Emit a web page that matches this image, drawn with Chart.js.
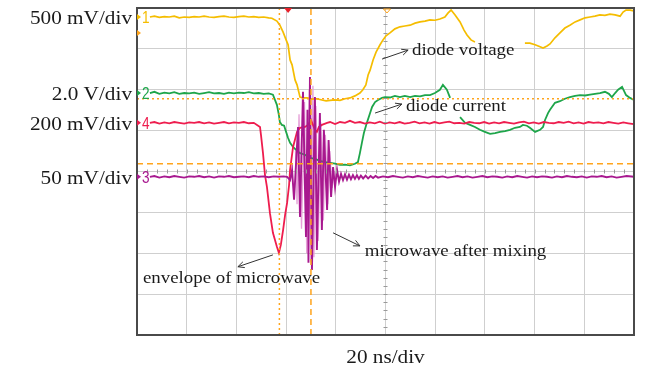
<!DOCTYPE html>
<html lang="en">
<head>
  <meta charset="UTF-8">
  <title>Diode mixing waveforms</title>
  <script src="https://cdn.jsdelivr.net/npm/chart.js"></script>
  <style>
    html, body {
      margin: 0;
      padding: 0;
      background: #ffffff;
    }
    .wrap {
      position: relative;
      width: 671px;
      height: 371px;
    }
  </style>
</head>
<body>
  <div class="wrap">
    <canvas id="scope" width="671" height="371"></canvas>
  </div>

  <script>
    // time in ns (20 ns/div), amplitude in screen divisions (centre = 0)
    const ch1 = [[5.2,3.78],[7,3.80],[9,3.77],[11,3.79],[13,3.78],[15,3.80],[17,3.76],[19,3.78],[21,3.77],[23,3.79],[25,3.78],[27,3.80],[29,3.78],[31,3.77],[33,3.79],[35,3.80],[37,3.78],[39,3.77],[41,3.79],[43,3.80],[45,3.78],[47,3.79],[49,3.77],[51,3.78],[53,3.76],[54.3,3.75],
      [56.3,3.68],[57.5,3.58],[58.8,3.41],[60.0,3.22],[60.8,3.10],[61.6,2.73],[62.4,2.61],[63.6,2.24],[64.4,2.12],[65.6,1.82],[66.8,1.80],[68.4,1.80],[70.4,1.77],[72.4,1.78],[74.4,1.75],[76.1,1.73],[77.7,1.74],[79.7,1.75],[81.7,1.74],[83.7,1.78],[85.7,1.80],[87.7,1.85],[89.7,1.92],[90.9,2.00],[92.1,2.12],[93.0,2.36],[93.8,2.48],[95.0,2.73],[96.2,2.92],[97.8,3.10],[99.0,3.22],[100.2,3.32],[101.8,3.39],[103.8,3.49],[105.8,3.54],[107.8,3.56],[109.9,3.58],[111.9,3.63],[113.9,3.66],[115.9,3.68],[117.9,3.71],[119.9,3.70],[121.9,3.73],[123.9,3.78],[125.2,3.88],[126.4,3.95],[128.0,3.83],[130.0,3.66],[131.6,3.46],[132.8,3.34],[134.4,3.22],[136.0,3.17],
      [146,null],
      [156.1,3.14],[158.1,3.14],[160.2,3.10],[162.2,3.05],[163.4,3.02],[165.0,3.07],[166.2,3.12],[168.2,3.27],[170.2,3.39],[172.2,3.51],[174.2,3.58],[176.3,3.66],[178.3,3.71],[180.3,3.76],[182.3,3.78],[184.3,3.80],[186.3,3.83],[188.3,3.82],[190.3,3.85],[192.4,3.83],[194.4,3.80],[195.6,3.90],[196.8,3.95],[198.4,3.95],[200,3.93]];

    const ch2 = [[5.2,1.92],[7,1.95],[9,1.90],[11,1.93],[13,1.91],[15,1.94],[17,1.90],[19,1.92],[21,1.91],[23,1.93],[25,1.90],[27,1.92],[29,1.94],[31,1.91],[33,1.92],[35,1.90],[37,1.93],[39,1.91],[41,1.93],[43,1.92],[45,1.94],[47,1.91],[49,1.92],[51,1.90],[53,1.91],[54.7,1.88],
      [56.3,1.63],[57.1,1.38],[57.5,1.21],[58.3,1.14],[59.2,1.12],[60.0,0.97],[60.8,0.82],[61.6,0.70],[62.8,0.60],[64.0,0.53],[65.6,0.45],[67.6,0.41],[69.6,0.33],[71.6,0.31],[73.6,0.26],[75.7,0.23],[77.7,0.21],[79.7,0.19],[81.7,0.16],[83.7,0.17],[85.7,0.15],[87.7,0.19],[88.9,0.23],[89.7,0.45],[90.5,0.70],[91.3,0.94],[92.5,1.19],[93.8,1.43],[94.6,1.58],[95.8,1.70],[97.0,1.75],[98.6,1.80],[99.8,1.82],[101.8,1.81],[103.8,1.85],[105.8,1.82],[107.8,1.85],[109.9,1.82],[111.9,1.85],[113.9,1.84],[115.9,1.87],[117.9,1.87],[119.9,1.92],[121.9,2.00],[123.1,2.12],[124.7,2.00],[126.0,1.80],
      [128,null],
      [130.0,1.33],[132.0,1.19],[134.0,1.14],[136.0,1.09],[138.0,1.02],[140.0,0.97],[142.1,0.92],[144.1,0.94],[146.1,0.97],[148.1,0.99],[150.1,1.02],[152.1,1.07],[154.1,1.09],[155.3,1.14],[156.9,1.12],[158.1,1.07],[160.2,0.97],[162.2,1.02],[163.4,1.09],[164.2,1.26],[165.4,1.43],[166.2,1.51],[168.2,1.68],[170.2,1.72],[172.2,1.78],[174.2,1.82],[176.3,1.85],[178.3,1.87],[180.3,1.86],[182.3,1.88],[184.3,1.90],[186.3,1.92],[188.3,1.95],[189.9,1.90],[191.1,1.82],[192.4,1.92],[193.6,2.00],[195.2,2.07],[196.8,1.87],[198.4,1.80],[200,1.75]];

    const ch4 = [[5.2,1.19],[7,1.21],[9,1.17],[11,1.20],[13,1.18],[15,1.21],[17,1.19],[19,1.17],[21,1.20],[23,1.19],[25,1.21],[27,1.18],[29,1.20],[31,1.17],[33,1.19],[35,1.21],[37,1.18],[39,1.20],[41,1.19],[43,1.21],[45,1.18],[47,1.19],[48.3,1.14],
      [49.5,1.09],[49.9,0.89],[50.7,0.45],[51.5,-0.08],[52.3,-0.38],[53.5,-1.02],[54.7,-1.50],[56.3,-1.84],[57.1,-1.99],[57.9,-1.79],[58.8,-1.43],[59.6,-1.06],[60.4,-0.77],[61.2,-0.33],[61.6,0.04],[62.8,0.60],[64.4,0.97],[65.6,1.07],[67.6,1.09],[68.8,1.14],[70.0,1.26],[70.8,1.14],[71.6,1.02],[72.4,0.97],[73.2,1.09],[74.4,1.14],[76.5,1.19],[77.7,1.21],[79.7,1.16],[81.7,1.21],[83.7,1.19],[85.7,1.24],[87.7,1.19],
      [89.7,1.21],[91.7,1.17],[93.7,1.20],[95.7,1.18],[97.7,1.22],[99.7,1.17],[101.7,1.20],[103.7,1.18],[105.7,1.21],[107.7,1.17],[109.7,1.19],[111.7,1.22],[113.7,1.18],[115.7,1.20],[117.7,1.17],[119.7,1.21],[121.7,1.18],[123.7,1.20],[125.7,1.22],[127.7,1.18],[129.7,1.19],[131.7,1.17],[133.7,1.21],[135.7,1.19],[137.7,1.18],[139.7,1.21],[141.7,1.17],[143.7,1.20],[145.7,1.18],[147.7,1.21],[149.7,1.19],[151.7,1.17],[153.7,1.20],[155.7,1.22],[157.7,1.18],[159.7,1.20],[161.7,1.17],[163.7,1.21],[165.7,1.19],[167.7,1.18],[169.7,1.21],[171.7,1.19],[173.7,1.22],[175.7,1.18],[177.7,1.20],[179.7,1.17],[181.7,1.21],[183.7,1.19],[185.7,1.20],[187.7,1.18],[189.7,1.21],[191.7,1.19],[193.7,1.17],[195.7,1.20],[197.7,1.18],[200,1.16]];

    const ch3 = [[5.2,-0.13],[7,-0.11],[9,-0.15],[11,-0.12],[13,-0.14],[15,-0.11],[17,-0.13],[19,-0.15],[21,-0.12],[23,-0.13],[25,-0.11],[27,-0.14],[29,-0.12],[31,-0.15],[33,-0.12],[35,-0.13],[37,-0.11],[39,-0.14],[41,-0.13],[43,-0.12],[45,-0.14],[47,-0.11],[49,-0.13],[51,-0.12],[53,-0.14],[55,-0.12],[57,-0.13],[59,-0.12],[60.4,-0.13],
      [61.6,-0.21],[62.4,0.04],[63.2,-0.69],[64.8,1.09],[65.6,-1.11],[66.8,1.95],[68.0,-1.60],[68.6,1.51],[69.0,-2.23],[69.6,2.31],[70.4,-2.41],[71.6,1.82],[72.4,-1.92],[73.6,1.43],[74.4,-1.43],[75.2,1.02],[76.5,-0.94],[77.1,0.77],[78.1,-0.62],[78.9,0.11],[79.7,-0.38],[80.5,0.04],[81.3,-0.25],
      [82.1,-0.06],[82.9,-0.21],[83.7,-0.07],[84.5,-0.20],[85.3,-0.08],[86.1,-0.19],[86.9,-0.09],[87.7,-0.18],[88.5,-0.09],[89.3,-0.18],[90.1,-0.10],[91.0,-0.17],[92.0,-0.10],[93.0,-0.17],[94.0,-0.11],[95,-0.16],[96,-0.11],
      [97,-0.15],[99,-0.12],[101,-0.14],[103,-0.11],[105,-0.13],[107,-0.15],[109,-0.12],[111,-0.14],[113,-0.11],[115,-0.13],[117,-0.15],[119,-0.12],[121,-0.14],[123,-0.12],[125,-0.15],[127,-0.13],[129,-0.11],[131,-0.14],[133,-0.12],[135,-0.15],[137,-0.13],[139,-0.11],[141,-0.14],[143,-0.12],[145,-0.13],[147,-0.15],[149,-0.12],[151,-0.14],[153,-0.11],[155,-0.13],[157,-0.15],[159,-0.12],[161,-0.14],[163,-0.12],[165,-0.13],[167,-0.15],[169,-0.12],[171,-0.14],[173,-0.11],[175,-0.13],[177,-0.14],[179,-0.12],[181,-0.15],[183,-0.12],[185,-0.13],[187,-0.11],[189,-0.14],[191,-0.12],[193,-0.15],[195,-0.13],[197,-0.11],[200,-0.13]];

    // lighter in-between strokes of the mixed microwave burst
    const ch3Shade = [[63.8,0.50],[64.4,-0.80],[65.2,1.40],[66.2,-1.40],[67.4,1.70],[68.3,-2.00],[69.3,2.00],[70.0,-2.20],[70.8,2.10],[71.2,-2.10],[72.0,1.60],[72.9,-1.70],[74.0,1.20],[75.0,-1.20],[75.8,0.90],[76.8,-0.80],[77.6,0.50],[78.5,-0.40],[79.3,0.00]];

    const cursorTimes = [57.3, 70.0];
    const cursorLevels = [1.78, 0.19];

    const chLevels = [3.78, 1.92, 1.19, -0.13];
    const chNames = ['1', '2', '4', '3'];
    const chScales = ['500 mV/div', '2.0 V/div', '200 mV/div', '50 mV/div'];
    const chColors = ['#f5bd00', '#1ea54a', '#ee1d4e', '#a8198f'];

    const notes = [
      { text: 'diode voltage', at: [110.7, 2.85], from: [98.6, 2.75], to: [109.1, 2.97] },
      { text: 'diode current', at: [108.2, 1.48], from: [95.8, 1.43], to: [106.6, 1.65] },
      { text: 'microwave after mixing', at: [91.7, -2.06], from: [78.9, -1.50], to: [89.7, -1.82] },
      { text: 'envelope of microwave', at: [2.4, -2.72], from: [54.7, -2.04], to: [40.6, -2.33] }
    ];

    const toXY = arr => arr.map(p => ({ x: p[0], y: p[1] }));
    const orange = '#ffa41c';

    function trace(data, color, width, order) {
      return {
        data: toXY(data),
        borderColor: color,
        borderWidth: width,
        pointRadius: 0,
        tension: 0,
        spanGaps: false,
        order: order
      };
    }

    function cursor(data, dash, order) {
      return {
        data: toXY(data),
        borderColor: orange,
        borderWidth: 1.5,
        borderDash: dash,
        pointRadius: 0,
        order: order
      };
    }

    function sText(ctx, str, x, y, size, align, color) {
      ctx.save();
      ctx.font = size + 'px "Liberation Serif"';
      ctx.fillStyle = color;
      ctx.textAlign = align;
      ctx.textBaseline = 'alphabetic';
      ctx.translate(x, y);
      ctx.scale(1.18, 1);
      ctx.fillText(str, 0, 0);
      ctx.restore();
    }

    function arrow(ctx, x1, y1, x2, y2) {
      const a = Math.atan2(y2 - y1, x2 - x1);
      ctx.save();
      ctx.strokeStyle = '#333';
      ctx.lineWidth = 1;
      ctx.beginPath();
      ctx.moveTo(x1, y1);
      ctx.lineTo(x2, y2);
      ctx.moveTo(x2 - 7 * Math.cos(a - 0.45), y2 - 7 * Math.sin(a - 0.45));
      ctx.lineTo(x2, y2);
      ctx.lineTo(x2 - 7 * Math.cos(a + 0.45), y2 - 7 * Math.sin(a + 0.45));
      ctx.stroke();
      ctx.restore();
    }

    const scopeDecor = {
      id: 'scopeDecor',
      afterDatasetsDraw(chart) {
        const ctx = chart.ctx;
        const area = chart.chartArea;
        const xs = chart.scales.x;
        const ys = chart.scales.y;

        // minor ticks on the centre axes
        ctx.save();
        ctx.strokeStyle = '#9a9a9a';
        ctx.lineWidth = 1;
        ctx.beginPath();
        const cx = xs.getPixelForValue(100);
        const cy = ys.getPixelForValue(0);
        for (let t = 0; t <= 200; t += 4) {
          const px = Math.round(xs.getPixelForValue(t)) + 0.5;
          ctx.moveTo(px, cy - 2);
          ctx.lineTo(px, cy + 2);
        }
        for (let v = -4; v <= 4; v += 0.2) {
          const py = Math.round(ys.getPixelForValue(v)) + 0.5;
          ctx.moveTo(cx - 2, py);
          ctx.lineTo(cx + 2, py);
        }
        ctx.stroke();

        // frame
        ctx.strokeStyle = '#4a4a4a';
        ctx.lineWidth = 2;
        ctx.strokeRect(area.left, area.top, area.right - area.left, area.bottom - area.top);
        ctx.restore();

        // channel markers, numbers and scale labels
        chLevels.forEach((lv, i) => {
          const py = ys.getPixelForValue(lv);
          ctx.save();
          ctx.fillStyle = chColors[i];
          ctx.beginPath();
          ctx.moveTo(area.left, py - 3);
          ctx.lineTo(area.left + 4, py);
          ctx.lineTo(area.left, py + 3);
          ctx.fill();
          ctx.font = '16px "Liberation Sans"';
          ctx.textBaseline = 'alphabetic';
          ctx.translate(area.left + 5, py + 6);
          ctx.scale(0.85, 1);
          ctx.fillText(chNames[i], 0, 0);
          ctx.restore();
          sText(ctx, chScales[i], area.left - 5, py + 7, 18, 'right', '#1a1a1a');
        });
        // reference marker on left edge
        const my = ys.getPixelForValue(3.39);
        ctx.save();
        ctx.fillStyle = orange;
        ctx.beginPath();
        ctx.moveTo(area.left, my - 3);
        ctx.lineTo(area.left + 4, my);
        ctx.lineTo(area.left, my + 3);
        ctx.fill();

        // top markers: trigger and centre
        const tx = xs.getPixelForValue(60.8);
        ctx.fillStyle = '#e8202a';
        ctx.beginPath();
        ctx.moveTo(tx - 4, area.top);
        ctx.lineTo(tx + 4, area.top);
        ctx.lineTo(tx, area.top + 5);
        ctx.fill();
        const ox = xs.getPixelForValue(100.6);
        ctx.strokeStyle = orange;
        ctx.lineWidth = 1;
        ctx.beginPath();
        ctx.moveTo(ox - 3.5, area.top + 1);
        ctx.lineTo(ox + 3.5, area.top + 1);
        ctx.lineTo(ox, area.top + 5);
        ctx.closePath();
        ctx.stroke();
        ctx.restore();

        // annotations
        notes.forEach(n => {
          sText(ctx, n.text, xs.getPixelForValue(n.at[0]), ys.getPixelForValue(n.at[1]), 16, 'left', '#1a1a1a');
          arrow(ctx, xs.getPixelForValue(n.from[0]), ys.getPixelForValue(n.from[1]),
                xs.getPixelForValue(n.to[0]), ys.getPixelForValue(n.to[1]));
        });

        sText(ctx, '20 ns/div', xs.getPixelForValue(100), area.bottom + 28, 18, 'center', '#1a1a1a');
      }
    };

    new Chart(document.getElementById('scope'), {
      type: 'line',
      data: {
        datasets: [
          cursor([[cursorTimes[0], -4], [cursorTimes[0], 4]], [2, 3], 0),
          cursor([[cursorTimes[1], -4], [cursorTimes[1], 4]], [6, 4], 0),
          cursor([[0, cursorLevels[0]], [200, cursorLevels[0]]], [2, 3], 0),
          cursor([[0, cursorLevels[1]], [200, cursorLevels[1]]], [6, 4], 0),
          trace(ch3, chColors[3], 1.9, 1),
          trace(ch4, chColors[2], 1.8, 2),
          trace(ch2, chColors[1], 1.8, 3),
          trace(ch1, chColors[0], 1.7, 4),
          trace(ch3Shade, '#e6a0d8', 1.3, 5)
        ]
      },
      options: {
        responsive: false,
        animation: false,
        layout: { padding: { left: 137, right: 37, top: 8, bottom: 36 } },
        plugins: {
          legend: { display: false },
          tooltip: { enabled: false }
        },
        scales: {
          x: {
            type: 'linear',
            min: 0,
            max: 200,
            ticks: { display: false, stepSize: 20 },
            grid: { color: '#cfcfcf', drawTicks: false },
            border: { display: false }
          },
          y: {
            min: -4,
            max: 4,
            ticks: { display: false, stepSize: 1 },
            grid: { color: '#cfcfcf', drawTicks: false },
            border: { display: false }
          }
        }
      },
      plugins: [scopeDecor]
    });
  </script>
</body>
</html>
